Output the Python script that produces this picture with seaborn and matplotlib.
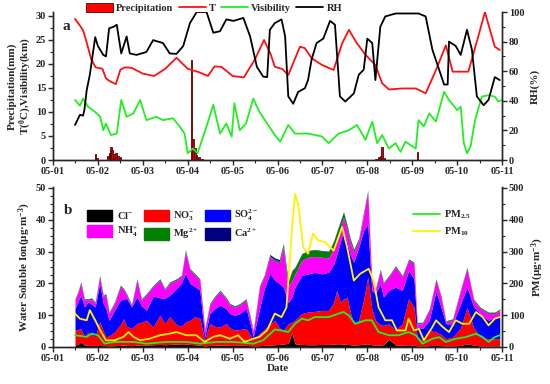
import numpy as np
import pandas as pd
import matplotlib
matplotlib.use('Agg')
import matplotlib.pyplot as plt
from matplotlib.patches import Patch
from matplotlib.lines import Line2D
from matplotlib.ticker import MultipleLocator
import seaborn as sns

sns.set_style('ticks')
plt.rcParams['font.family'] = ['Liberation Serif', 'DejaVu Serif']
plt.rcParams['font.weight'] = 'bold'
plt.rcParams['mathtext.fontset'] = 'custom'
plt.rcParams['mathtext.default'] = 'bf'
plt.rcParams['mathtext.bf'] = 'Liberation Serif:bold'
plt.rcParams['mathtext.rm'] = 'Liberation Serif:bold'
plt.rcParams['mathtext.it'] = 'Liberation Serif:italic:bold'

# ---------------- panel a data (day of May) ----------------
t_days = [1.49, 1.6, 1.67, 1.75, 1.85, 1.95, 2.1, 2.18, 2.25, 2.4, 2.5, 2.6, 2.75, 3.0,
          3.25, 3.5, 3.75, 4.0, 4.25, 4.45, 4.6, 4.75, 5.0, 5.25, 5.5, 5.7, 5.85, 5.94,
          6.1, 6.24, 6.5, 6.61, 6.76, 6.99, 7.25, 7.44, 7.59, 7.77, 7.96, 8.18, 8.33,
          8.48, 8.78, 9.08, 9.3, 9.53, 9.75, 9.9, 10.1, 10.25, 10.47, 10.62, 10.84, 10.95]
temp = [29.4, 28.0, 27.0, 24.5, 21.0, 19.3, 19.0, 17.0, 16.5, 15.8, 18.8, 19.3, 19.2, 18.0,
        17.5, 19.0, 21.3, 19.0, 18.3, 17.5, 19.5, 19.4, 17.5, 17.2, 21.0, 25.0, 22.0, 19.4,
        19.0, 17.7, 23.6, 23.3, 21.2, 19.8, 18.75, 24.3, 27.1, 24.3, 21.9, 19.8, 16.0,
        14.7, 14.9, 14.9, 13.9, 18.75, 23.9, 18.4, 18.4, 18.4, 25.7, 30.8, 23.6, 22.9]

rh_days = [1.49, 1.6, 1.67, 1.7, 1.75, 1.82, 1.94, 2.0, 2.12, 2.18, 2.25, 2.35, 2.42, 2.52,
           2.64, 2.71, 2.86, 3.08, 3.23, 3.45, 3.6, 3.75, 3.9, 4.05, 4.2, 4.42, 4.57, 4.72,
           4.86, 5.02, 5.24, 5.39, 5.54, 5.68, 5.77, 5.83, 5.94, 6.09, 6.17, 6.24, 6.35,
           6.46, 6.61, 6.68, 6.76, 6.87, 7.02, 7.17, 7.28, 7.39, 7.51, 7.7, 7.81, 7.92, 8.0,
           8.11, 8.18, 8.29, 8.4, 8.63, 8.92, 9.14, 9.3, 9.45, 9.6, 9.71, 9.79, 9.82, 9.97,
           10.08, 10.22, 10.33, 10.44, 10.59, 10.7, 10.84, 10.95]
rh = [23.7, 30.5, 30.0, 34.0, 47.0, 57.6, 83.0, 77.0, 71.0, 70.0, 89.0, 90.0, 91.4, 72.0,
      83.5, 72.0, 71.0, 73.0, 81.0, 79.0, 72.0, 71.7, 77.0, 92.5, 100.0, 100.0, 86.0, 87.0,
      95.0, 94.0, 96.0, 83.5, 63.0, 56.4, 56.0, 88.0, 92.5, 95.0, 83.5, 43.0, 38.0,
      46.0, 48.5, 54.0, 68.0, 79.0, 82.0, 94.0, 91.4, 43.0, 39.5, 45.0, 57.6, 61.0, 82.0,
      79.0, 54.0, 90.0, 97.0, 99.0, 99.0, 99.0, 97.0, 74.5, 61.0, 51.0, 51.0, 80.0, 77.0,
      71.0, 88.0, 74.5, 43.0, 37.0, 40.6, 56.0, 54.0]

vis_days = [1.49, 1.6, 1.67, 1.78, 1.94, 2.05, 2.12, 2.18, 2.29, 2.42, 2.52, 2.64, 2.79,
            2.94, 3.08, 3.3, 3.45, 3.67, 3.82, 3.93, 4.0, 4.12, 4.22, 4.42, 4.57, 4.72,
            4.86, 4.98, 5.04, 5.16, 5.3, 5.46, 5.6, 5.77, 5.94, 6.06, 6.24, 6.39, 6.68,
            6.99, 7.14, 7.36, 7.59, 7.77, 7.96, 8.11, 8.22, 8.33, 8.48, 8.63, 8.74, 8.85,
            9.08, 9.14, 9.26, 9.38, 9.53, 9.71, 9.82, 10.0, 10.08, 10.15, 10.22, 10.3,
            10.4, 10.55, 10.7, 10.84, 10.92, 10.99]
vis = [12.5, 11.3, 12.8, 11.1, 10.0, 9.0, 6.2, 7.6, 5.2, 5.5, 12.5, 9.0, 9.7,
       12.5, 8.3, 9.0, 8.3, 8.7, 7.0, 5.5, 1.4, 2.4, 1.4, 7.0, 11.5, 5.5,
       7.6, 4.9, 11.8, 6.2, 7.6, 12.8, 10.0, 7.6, 5.2, 3.8, 7.3, 5.5, 5.5,
       4.9, 3.5, 5.5, 6.2, 7.3, 4.2, 8.0, 3.5, 5.2, 2.4, 3.5, 1.7, 3.8,
       2.4, 8.3, 7.0, 9.7, 8.0, 14.2, 12.5, 10.4, 11.1, 3.5, 1.4, 2.8,
       8.3, 13.2, 13.5, 13.2, 12.2, 12.5]

rain_days = [1.95, 1.98, 2.22, 2.26, 2.29, 2.32, 2.36, 2.4, 2.45, 2.5,
             4.08, 4.12, 4.16, 4.2, 4.25, 4.32, 8.2, 8.25, 8.29, 8.33, 8.38, 9.12]
rain = [1.2, 0.5, 0.8, 1.5, 2.7, 2.0, 1.3, 1.5, 0.8, 0.6,
        20.8, 4.3, 2.4, 1.0, 0.6, 0.2, 0.3, 0.6, 0.9, 2.8, 0.5, 1.7]

# ---------------- panel b data ----------------
ion_days = [1.49, 1.55, 1.62, 1.7, 1.78, 1.86, 1.94, 2.04, 2.12, 2.18, 2.25, 2.37, 2.5,
            2.57, 2.64, 2.75, 2.87, 2.97, 3.08, 3.23, 3.38, 3.49, 3.6, 3.75, 3.86, 3.95,
            4.05, 4.16, 4.27, 4.38, 4.49, 4.6, 4.72, 4.86, 4.94, 5.05, 5.16, 5.3, 5.38,
            5.46, 5.6, 5.7, 5.83, 5.94, 6.04, 6.13, 6.24, 6.32, 6.39, 6.54, 6.68, 6.83,
            6.99, 7.14, 7.25, 7.32, 7.4, 7.47, 7.55, 7.62, 7.7, 7.81, 7.92, 8.01, 8.1,
            8.18, 8.29, 8.36, 8.48, 8.63, 8.78, 8.92, 9.04, 9.11, 9.23, 9.38, 9.53, 9.64,
            9.75, 9.9, 10.08, 10.22, 10.37, 10.52, 10.7, 10.84, 10.95]
cl = [0.6, 0.8, 1.5, 0.6, 0.5, 0.5, 0.4, 0.5, 0.4, 0.4, 0.3, 0.4, 0.5,
      0.6, 0.5, 0.4, 0.6, 0.5, 0.6, 0.7, 0.8, 0.7, 0.8, 0.9, 0.8, 0.9,
      0.8, 0.7, 0.6, 0.3, 0.5, 0.5, 0.6, 0.6, 0.5, 0.5, 0.6, 0.5, 0.4,
      0.3, 0.4, 0.5, 0.6, 0.7, 0.8, 0.9, 1.2, 4.5, 1.0, 0.8, 0.7, 0.7,
      0.8, 0.8, 0.9, 1.0, 1.0, 0.9, 0.8, 0.7, 0.6, 0.7, 0.9, 1.0, 0.7,
      0.5, 0.6, 0.7, 2.5, 0.6, 0.6, 0.7, 0.6, 0.3, 0.2, 0.4, 0.5, 0.4,
      0.3, 0.3, 0.5, 1.0, 0.6, 0.3, 0.3, 0.3, 0.3]
no3 = [4.7, 4.7, 4.3, 2.6, 4.2, 3.5, 2.8, 7.4, 4.6, 2.8, 3.2, 4.3, 6.5,
       8.3, 6.0, 5.4, 6.8, 7.3, 7.8, 5.6, 9.2, 6.7, 8.7, 6.1, 5.7, 7.0,
       7.6, 8.8, 8.4, 1.8, 6.9, 6.0, 5.7, 6.8, 5.5, 4.8, 4.9, 5.3, 3.6,
       1.8, 3.8, 5.0, 6.4, 7.7, 5.2, 4.3, 6.1, 3.3, 7.4, 9.7, 10.3, 10.5,
       10.7, 10.7, 13.1, 16.8, 13.0, 14.1, 14.9, 10.3, 6.7, 7.7, 14.1, 21.0, 11.3,
       7.9, 6.4, 6.1, 4.8, 4.6, 6.7, 14.5, 11.9, 2.8, 1.9, 4.8, 4.2, 3.6,
       2.3, 2.8, 5.5, 11.5, 5.4, 2.7, 2.3, 2.3, 2.3]
so4 = [6.8, 8.5, 10.5, 9.4, 9.5, 9.5, 9.4, 12.1, 8.7, 8.8, 4.9, 6.9, 7.7,
       6.1, 8.8, 6.8, 8.4, 5.2, 3.2, 9.7, 5.5, 7.9, 6.8, 11.4, 13.5, 15.3,
       11.6, 9.5, 8.9, 1.1, 3.1, 5.5, 6.9, 4.6, 4.5, 4.7, 5.0, 6.3, 4.0,
       1.1, 7.8, 12.5, 16.2, 12.6, 14.0, 13.6, 6.7, 7.9, 10.4, 12.0, 12.0, 12.3,
       11.5, 12.0, 12.0, 11.2, 19.0, 21.6, 17.3, 18.0, 19.4, 23.0, 21.6, 16.7, 5.8,
       8.3, 12.9, 8.9, 10.5, 13.6, 10.5, 8.8, 8.9, 3.2, 3.7, 3.2, 12.8, 8.6,
       4.7, 4.2, 7.6, 6.3, 6.6, 7.5, 5.8, 6.8, 6.8]
nh4 = [2.6, 2.8, 3.7, 2.1, 0.5, 1.5, 1.1, 2.1, 2.1, 4.3, 2.1, 2.1, 4.3,
       3.0, 1.0, 0.3, 5.2, 1.7, 4.7, 2.9, 5.5, 2.6, 3.7, 2.6, 2.1, 6.8,
       4.2, 3.6, 3.1, 2.1, 2.7, 3.5, 4.2, 3.0, 2.7, 2.5, 2.7, 2.6, 2.0,
       1.5, 6.9, 4.0, 5.2, 6.0, 6.5, 12.6, 5.0, 5.2, 4.2, 4.7, 5.2, 5.0,
       5.2, 4.5, 5.0, 5.0, 4.5, 4.2, 4.0, 4.0, 3.1, 2.1, 5.2, 9.9, 3.1,
       1.1, 4.1, 4.2, 4.2, 6.3, 4.2, 3.2, 4.8, 1.0, 1.5, 3.1, 3.5, 3.1,
       0.5, 1.1, 4.2, 5.8, 2.0, 1.5, 2.1, 1.1, 2.1]
mg = [0.3, 0.3, 0.3, 0.3, 0.3, 0.3, 0.3, 0.3, 0.3, 0.3, 0.3, 0.3, 0.3,
      0.3, 0.3, 0.3, 0.3, 0.3, 0.3, 0.3, 0.3, 0.3, 0.3, 0.3, 0.3, 0.4,
      0.3, 0.3, 0.3, 0.3, 0.3, 0.3, 0.3, 0.3, 0.3, 0.3, 0.3, 0.3, 0.3,
      0.3, 0.3, 0.3, 0.3, 0.5, 0.6, 0.8, 1.5, 3.0, 2.0, 2.0, 2.0, 2.0,
      2.0, 2.0, 2.2, 2.2, 2.0, 1.6, 1.2, 1.0, 0.8, 0.6, 0.6, 0.5, 0.3,
      0.3, 0.3, 0.3, 0.3, 0.3, 0.3, 0.3, 0.3, 0.3, 0.3, 0.3, 0.3, 0.3,
      0.3, 0.3, 0.3, 0.3, 0.3, 0.3, 0.3, 0.3, 0.3]
ca = [0.15] * 42 + [0.4, 0.5, 0.4, 0.3] + [0.15] * 41

pm10_days = [1.49, 1.6, 1.75, 1.82, 1.94, 2.05, 2.18, 2.37, 2.57, 2.68, 2.79, 2.94, 3.15,
             3.38, 3.6, 3.75, 3.97, 4.19, 4.38, 4.57, 4.72, 4.94, 5.12, 5.27, 5.46, 5.6,
             5.77, 5.94, 6.09, 6.2, 6.32, 6.39, 6.46, 6.57, 6.68, 6.79, 6.91, 7.06, 7.25,
             7.44, 7.55, 7.7, 7.84, 8.03, 8.14, 8.25, 8.4, 8.55, 8.66, 8.85, 8.92, 9.04,
             9.15, 9.26, 9.45, 9.53, 9.68, 9.82, 9.97, 10.12, 10.27, 10.42, 10.57, 10.7,
             10.84, 10.95]
pm10 = [105, 89, 84, 116, 84, 53, 21, 21, 32, 47, 32, 21, 26,
        37, 42, 47, 37, 37, 16, 32, 37, 26, 37, 16, 26, 32,
        53, 105, 94, 125, 366, 481, 450, 314, 293, 356, 335, 330, 303,
        377, 314, 209, 230, 246, 209, 125, 84, 84, 52, 52, 89, 52,
        57, 21, 63, 84, 63, 47, 84, 73, 73, 110, 94, 68,
        89, 94]

pm25_days = [1.49, 1.75, 1.86, 2.0, 2.15, 2.37, 2.79, 3.08, 3.53, 3.97, 4.27, 4.64, 5.02,
             5.46, 5.68, 5.94, 6.09, 6.24, 6.39, 6.54, 6.68, 6.83, 7.14, 7.36, 7.47, 7.59,
             7.73, 7.96, 8.1, 8.25, 8.48, 8.7, 8.92, 9.08, 9.23, 9.45, 9.6, 9.75, 9.97,
             10.19, 10.42, 10.57, 10.7, 10.84, 10.95]
pm25 = [37, 32, 42, 37, 10.5, 16, 16, 10.5, 16, 16, 10.5, 16, 16,
        10.5, 21, 55, 52, 47, 73, 89, 84, 94, 94, 105, 110, 99,
        73, 84, 84, 47, 37, 37, 47, 37, 10.5, 26, 31, 16, 26,
        31, 42, 31, 16, 31, 37]

date_ticks = list(range(1, 12))
date_labels = ['05-%02d' % d for d in date_ticks]

fig = plt.figure(figsize=(5.5, 3.84), dpi=100)
W, H = 550.0, 384.0
ax1 = fig.add_axes([53 / W, 1 - 160 / H, 449 / W, 148 / H])
ax2 = fig.add_axes([53 / W, 1 - 347 / H, 449 / W, 160 / H])

lw = 1.3
vis_green = '#22EE22'

# ---- panel a ----
ax1.bar(rain_days, rain, width=0.035, color='#D00000', edgecolor='#600000', linewidth=0.6,
        zorder=2)
sns.lineplot(x=t_days, y=temp, ax=ax1, color='#FF1010', linewidth=lw, zorder=3)
sns.lineplot(x=vis_days, y=vis, ax=ax1, color=vis_green, linewidth=lw, zorder=3)
ax1r = ax1.twinx()
sns.lineplot(x=rh_days, y=rh, ax=ax1r, color='black', linewidth=lw)

ax1.set_xlim(1, 11)
ax1.set_ylim(0, 30.83)
ax1r.set_ylim(0, 100)
ax1.yaxis.set_major_locator(MultipleLocator(5))
ax1.yaxis.set_minor_locator(MultipleLocator(2.5))
ax1r.yaxis.set_major_locator(MultipleLocator(20))
ax1r.yaxis.set_minor_locator(MultipleLocator(10))
ax1.set_ylabel('Precipitation(mm)\nT($^{0}$C),Visibility(km)', fontsize=8, fontweight='bold',
               labelpad=1, linespacing=1.1)
ax1r.set_ylabel('RH(%)', fontsize=8, fontweight='bold', labelpad=4)
ax1.text(0.022, 0.88, 'a', transform=ax1.transAxes, fontsize=11, fontweight='bold')

# ---- panel b ----
ion_colors = ['#000000', '#FF0000', '#0000FF', '#FF00FF', '#008000', '#000080']
ion_names = ['Cl$^{-}$', 'NO$_{3}^{-}$', 'SO$_{4}^{2-}$', 'NH$_{4}^{+}$', 'Mg$^{2+}$', 'Ca$^{2+}$']
ax2.stackplot(ion_days, cl, no3, so4, nh4, mg, ca, colors=ion_colors, linewidth=0)
ax2r = ax2.twinx()
sns.lineplot(x=pm25_days, y=pm25, ax=ax2r, color=vis_green, linewidth=lw)
sns.lineplot(x=pm10_days, y=pm10, ax=ax2r, color='#FFF200', linewidth=lw)

ax2.set_xlim(1, 11)
ax2.set_ylim(0, 50.3)
ax2r.set_ylim(0, 503)
ax2.yaxis.set_major_locator(MultipleLocator(10))
ax2.yaxis.set_minor_locator(MultipleLocator(2.5))
ax2r.yaxis.set_major_locator(MultipleLocator(100))
ax2r.yaxis.set_minor_locator(MultipleLocator(50))
ax2.set_ylabel('Water Soluble Ion(μg·m$^{-3}$)', fontsize=8, fontweight='bold', labelpad=2)
ax2r.set_ylabel('PM(μg·m$^{-3}$)', fontsize=8, fontweight='bold', labelpad=4)
ax2.set_xlabel('Date', fontsize=8, fontweight='bold', labelpad=1)
ax2.text(0.025, 0.83, 'b', transform=ax2.transAxes, fontsize=11, fontweight='bold')

for a in (ax1, ax2):
    a.set_xticks(date_ticks)
    a.set_xticklabels(date_labels)
    a.xaxis.set_minor_locator(MultipleLocator(0.5))
for a in (ax1, ax1r, ax2, ax2r):
    a.spines['top'].set_visible(False)
    for s in ('left', 'right', 'bottom'):
        a.spines[s].set_linewidth(1.0)
    a.tick_params(which='major', direction='out', length=3.5, width=1.0, labelsize=7.5, pad=1.5)
    a.tick_params(which='minor', direction='out', length=2, width=0.8)
    for lab in a.get_xticklabels() + a.get_yticklabels():
        lab.set_fontweight('bold')

# ---- legends ----
top_handles = [Patch(facecolor='#FF0000', edgecolor='#600000', linewidth=0.6),
               Line2D([], [], color='#FF1010', lw=lw),
               Line2D([], [], color=vis_green, lw=lw),
               Line2D([], [], color='black', lw=lw)]
fig.legend(top_handles, ['Precipitation', 'T', 'Visibility', 'RH'], loc='center',
           bbox_to_anchor=(214 / W, 1 - 8 / H), ncol=4, frameon=False,
           prop={'size': 7.5, 'weight': 'bold'}, handlelength=2.6, handleheight=1.0,
           columnspacing=0.5, handletextpad=0.3, borderpad=0)

ion_handles = [Patch(facecolor=c, edgecolor=c) for c in ion_colors]
order = [0, 3, 1, 4, 2, 5]
ax2.legend([ion_handles[i] for i in order], [ion_names[i] for i in order], ncol=3,
           loc='upper left', bbox_to_anchor=(0.065, 0.9), frameon=False,
           prop={'size': 7.5, 'weight': 'bold'}, handlelength=2.4, handleheight=1.3,
           columnspacing=0.6, handletextpad=0.4, labelspacing=0.35, borderpad=0)

pm_handles = [Line2D([], [], color=vis_green, lw=lw), Line2D([], [], color='#FFF200', lw=lw)]
ax2r.legend(pm_handles, ['PM$_{2.5}$', 'PM$_{10}$'], loc='upper left',
            bbox_to_anchor=(0.79, 0.9), frameon=False,
            prop={'size': 7.5, 'weight': 'bold'}, handlelength=2.6,
            handletextpad=0.4, labelspacing=0.5, borderpad=0)

fig.savefig('out.png', dpi=100)
